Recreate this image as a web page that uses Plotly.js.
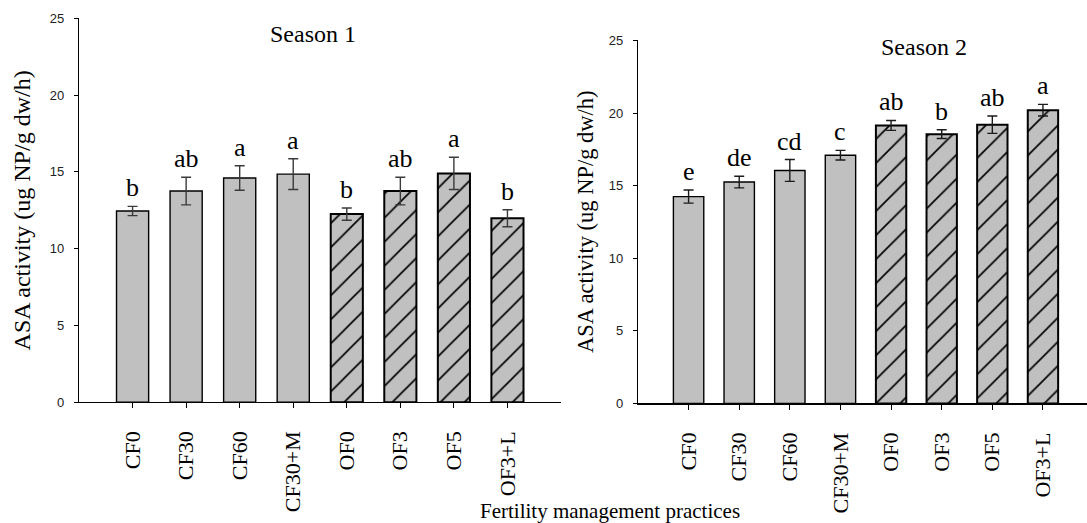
<!DOCTYPE html>
<html>
<head>
<meta charset="utf-8">
<script src="https://cdn.plot.ly/plotly-3.0.1.min.js"></script>
<style>
  html, body { margin: 0; padding: 0; background: #ffffff; }
  #chart { width: 1087px; height: 523px; }
</style>
</head>
<body>
<div id="chart"></div>
<script>
// Arylsulfatase (ASA) activity by fertility management practice, two seasons
const practices = ['CF0', 'CF30', 'CF60', 'CF30+M', 'OF0', 'OF3', 'OF5', 'OF3+L'];

const season1Mean = [12.45, 13.75, 14.6, 14.85, 12.25, 13.75, 14.9, 11.98];
const season1Err = [0.3, 0.9, 0.8, 1.0, 0.4, 0.9, 1.05, 0.55];
const season1Letters = ['b', 'ab', 'a', 'a', 'b', 'ab', 'a', 'b'];

const season2Mean = [14.25, 15.25, 16.05, 17.1, 19.15, 18.55, 19.2, 20.2];
const season2Err = [0.45, 0.4, 0.75, 0.33, 0.34, 0.3, 0.6, 0.4];
const season2Letters = ['e', 'de', 'cd', 'c', 'ab', 'b', 'ab', 'a'];

const SERIF = '"Liberation Serif", "Times New Roman", Times, serif';
const SANS = '"Liberation Sans", Arial, Helvetica, sans-serif';

// organic treatments are hatched, conventional ones plain
const isOrganic = practices.map(p => p.startsWith('OF'));

function barTrace(means, errs, xa, ya, errColor) {
  return {
    type: 'bar',
    x: practices,
    y: means,
    xaxis: xa,
    yaxis: ya,
    width: 0.6,
    marker: {
      color: '#c0c0c0',
      line: { color: '#000000', width: isOrganic.map(o => o ? 2 : 1.4) },
      pattern: {
        shape: isOrganic.map(o => o ? '/' : ''),
        size: 17,
        solidity: 0.1,
        fgcolor: '#000000',
        bgcolor: '#c0c0c0',
        fillmode: 'replace'
      }
    },
    error_y: {
      type: 'data',
      array: errs,
      visible: true,
      color: errColor,
      thickness: 1.4,
      width: 5
    },
    hoverinfo: 'x+y',
    showlegend: false
  };
}

const traces = [
  barTrace(season1Mean, season1Err, 'x', 'y', '#3a3a3a'),
  barTrace(season2Mean, season2Err, 'x2', 'y2', '#1a1a1a')
];

function letterNotes(means, errs, letters, xa, ya) {
  return letters.map((t, i) => ({
    xref: xa, yref: ya,
    x: practices[i],
    y: means[i] + errs[i],
    text: t,
    showarrow: false,
    xanchor: 'center',
    yanchor: 'bottom',
    yshift: 2,
    font: { family: SERIF, size: 26, color: '#000000' }
  }));
}

const xCommon = {
  type: 'category',
  showline: true,
  linecolor: '#000000',
  linewidth: 1.3,
  ticks: 'outside',
  ticklen: 5,
  tickwidth: 1,
  tickcolor: '#000000',
  tickangle: -90,
  ticklabelstandoff: 14,
  tickfont: { family: SERIF, size: 22, color: '#000000' },
  showgrid: false,
  zeroline: false,
  fixedrange: true
};

const yCommon = {
  range: [0, 25],
  tickvals: [0, 5, 10, 15, 20, 25],
  showline: true,
  linecolor: '#000000',
  linewidth: 1.1,
  ticks: 'outside',
  ticklen: 4,
  tickwidth: 1,
  tickcolor: '#000000',
  ticklabelstandoff: 7,
  tickfont: { family: SANS, size: 13, color: '#222222' },
  showgrid: false,
  zeroline: false,
  fixedrange: true
};

const layout = {
  width: 1087,
  height: 523,
  margin: { l: 0, r: 0, t: 0, b: 0 },
  paper_bgcolor: '#ffffff',
  plot_bgcolor: 'rgba(0,0,0,0)',
  bargap: 0.4,
  xaxis: Object.assign({}, xCommon, { domain: [0.0727, 0.5161], range: [-1, 8], anchor: 'y' }),
  yaxis: Object.assign({}, yCommon, { domain: [0.2310, 0.9650], anchor: 'x' }),
  xaxis2: Object.assign({}, xCommon, { domain: [0.5869, 1.0], range: [-1, 7.87], anchor: 'y2' }),
  yaxis2: Object.assign({}, yCommon, { domain: [0.2285, 0.9226], anchor: 'x2' }),
  annotations: [
    ...letterNotes(season1Mean, season1Err, season1Letters, 'x', 'y'),
    ...letterNotes(season2Mean, season2Err, season2Letters, 'x2', 'y2'),
    {
      xref: 'paper', yref: 'paper', x: 0.288, y: 0.935,
      text: 'Season 1', showarrow: false, xanchor: 'center', yanchor: 'middle',
      font: { family: SERIF, size: 24, color: '#000000' }
    },
    {
      xref: 'paper', yref: 'paper', x: 0.850, y: 0.910,
      text: 'Season 2', showarrow: false, xanchor: 'center', yanchor: 'middle',
      font: { family: SERIF, size: 24, color: '#000000' }
    },
    {
      xref: 'paper', yref: 'paper', x: 0.0206, y: 0.5985,
      text: 'ASA activity (ug NP/g dw/h)', showarrow: false, textangle: -90,
      xanchor: 'center', yanchor: 'middle',
      font: { family: SERIF, size: 24, color: '#000000' }
    },
    {
      xref: 'paper', yref: 'paper', x: 0.5386, y: 0.5765,
      text: 'ASA activity (ug NP/g dw/h)', showarrow: false, textangle: -90,
      xanchor: 'center', yanchor: 'middle',
      font: { family: SERIF, size: 22.5, color: '#000000' }
    },
    {
      xref: 'paper', yref: 'paper', x: 0.561, y: 0.022,
      text: 'Fertility management practices', showarrow: false,
      xanchor: 'center', yanchor: 'middle',
      font: { family: SERIF, size: 21, color: '#000000' }
    }
  ]
};

Plotly.newPlot('chart', traces, layout, { displayModeBar: false, staticPlot: true });
</script>
</body>
</html>
